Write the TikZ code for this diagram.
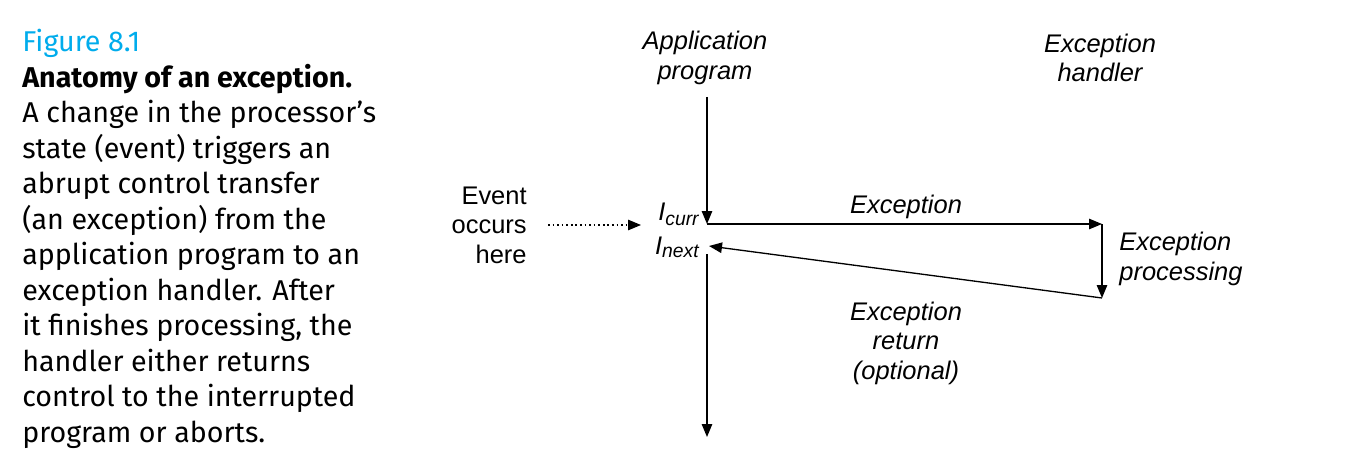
\documentclass[tikz,border=0pt]{standalone}
\usepackage{fontspec}
\setmainfont{Liberation Sans}
\newfontfamily\capfont{Fira Sans}
\usetikzlibrary{arrows.meta}
\definecolor{figCyan}{RGB}{0,172,236}
\begin{document}
\begin{tikzpicture}[x=0.02cm,y=-0.02cm,
    lbl/.style={font=\fontsize{14.5}{16.8}\selectfont\itshape,align=center,inner sep=0pt},
    ilbl/.style={font=\fontsize{14.5}{16.8}\selectfont\itshape,inner sep=0pt},
    capText/.style={font=\capfont\fontsize{16.3}{20.2}\selectfont,align=left,inner sep=0pt},
    flowArrow/.style={-{Triangle[length=2.6mm,width=2.1mm]},line width=0.75pt},
]
\useasboundingbox (0,0) rectangle (1369,473);
% caption
\node[capText,anchor=north west] (cap) at (22,29) {{\color{figCyan}Figure 8.1}\\
\textbf{Anatomy of an exception.}\\
A change in the processor’s\\
state (event) triggers an\\
abrupt control transfer\\
(an exception) from the\\
application program to an\\
exception handler. After\\
it finishes processing, the\\
handler either returns\\
control to the interrupted\\
program or aborts.};
% labels
\node[lbl] (app) at (705,58) {Application\\program};
\node[lbl] (hdl) at (1100,58) {Exception\\handler};
\node[lbl,font=\fontsize{14.5}{16.8}\selectfont,align=right,anchor=east] (event) at (527,225) {Event\\occurs\\here};
\node[ilbl,anchor=base east] (icurr) at (699,220) {I\raisebox{-3pt}{\fontsize{11}{11}\selectfont curr}};
\node[ilbl,anchor=base east] (inext) at (699,254) {I\raisebox{-2pt}{\fontsize{11}{11}\selectfont next}};
\node[lbl] (exc) at (906,207) {Exception};
\node[lbl,align=left,anchor=west] (proc) at (1119,259) {Exception\\processing};
\node[lbl] (ret) at (906,343) {Exception\\return\\(optional)};
% connectors
\coordinate (appTop) at (707,97);
\coordinate (curr) at (707,224);
\coordinate (next) at (709,246);
\coordinate (appLow) at (707,254);
\coordinate (appBot) at (707,437);
\coordinate (hdlTop) at (1102,224);
\coordinate (hdlBot) at (1102,298);
\coordinate (evTail) at (548,225);
\coordinate (evHead) at (641,225);
\draw[flowArrow] (appTop) -- (curr);
\draw[flowArrow] (curr) -- (hdlTop);
\draw[flowArrow] (hdlTop) -- (hdlBot);
\draw[flowArrow] (hdlBot) -- (next);
\draw[flowArrow] (appLow) -- (appBot);
\draw[flowArrow,dash pattern=on 1pt off 1.6pt] (evTail) -- (evHead);
\end{tikzpicture}
\end{document}
